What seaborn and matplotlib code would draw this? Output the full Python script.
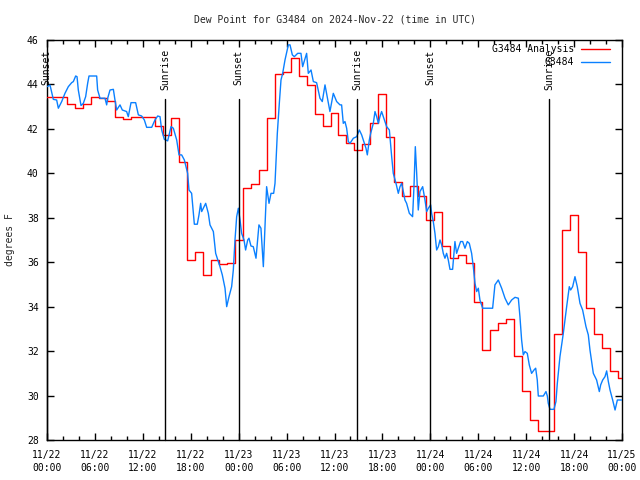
import matplotlib
matplotlib.use("Agg")
import matplotlib.pyplot as plt
from matplotlib.ticker import MultipleLocator
import seaborn as sns
import pandas as pd

# ---- data (hours since 2024-11-22 00:00 UTC) ----
analysis_hours = list(range(73))
analysis_vals = [43.42, 43.45, 43.45, 43.12, 42.92, 43.12, 43.45, 43.37, 43.25, 42.55,
                 42.43, 42.55, 42.55, 42.55, 42.13, 41.72, 42.47, 40.52, 36.10, 36.45,
                 35.42, 36.10, 35.90, 35.95, 37.00, 39.35, 39.52, 40.15, 42.50, 44.47,
                 44.55, 45.17, 44.38, 43.97, 42.67, 42.13, 42.70, 41.72, 41.35, 41.05,
                 41.30, 42.25, 43.57, 41.65, 39.60, 38.98, 39.45, 39.00, 37.90, 38.25,
                 36.75, 36.18, 36.33, 35.95, 34.22, 32.05, 32.95, 33.28, 33.43, 31.78,
                 30.20, 28.90, 28.42, 28.42, 32.75, 37.45, 38.13, 36.45, 33.93, 32.75,
                 32.13, 31.12, 30.78]

obs_hours = [0.00, 0.38, 0.79, 1.21, 1.42, 1.84, 2.25, 2.67, 3.09, 3.30, 3.59, 3.76, 3.92,
             4.26, 4.55, 4.84, 5.09, 5.26, 6.22, 6.34, 6.64, 7.26, 7.47, 7.60, 7.89, 8.31,
             8.51, 8.72, 9.14, 9.43, 9.97, 10.18, 10.52, 11.10, 11.44, 11.85, 12.19, 12.48,
             13.11, 13.52, 13.86, 14.15, 14.36, 14.69, 15.11, 15.53, 15.82, 16.24, 16.53,
             16.86, 17.20, 17.61, 17.78, 18.11, 18.45, 18.82, 19.03, 19.24, 19.37, 19.87,
             20.20, 20.41, 20.83, 21.12, 21.66, 21.95, 22.29, 22.50, 22.79, 23.12, 23.33,
             23.54, 23.75, 23.96, 24.17, 24.37, 24.67, 24.87, 25.13, 25.29, 25.54, 25.83,
             26.17, 26.34, 26.54, 26.79, 27.09, 27.30, 27.50, 27.80, 28.05, 28.38, 28.55,
             28.84, 29.09, 29.30, 29.51, 29.80, 30.22, 30.43, 30.72, 30.97, 31.39, 31.80,
             32.01, 32.51, 32.72, 33.06, 33.35, 33.76, 34.18, 34.47, 34.81, 35.43, 35.85,
             36.27, 36.69, 36.89, 37.10, 37.31, 37.52, 37.73, 37.94, 38.36, 38.78, 39.11,
             39.40, 39.61, 39.94, 40.11, 40.36, 40.53, 40.86, 41.07, 41.28, 41.49, 41.69,
             41.90, 42.11, 42.53, 42.87, 43.16, 43.36, 43.70, 43.99, 44.20, 44.41, 44.62,
             44.82, 45.03, 45.37, 45.78, 45.95, 46.12, 46.29, 46.49, 46.70, 47.04, 47.33,
             47.54, 47.75, 48.04, 48.16, 48.37, 48.58, 48.79, 49.00, 49.21, 49.42, 49.62,
             49.83, 50.04, 50.25, 50.46, 50.79, 51.08, 51.29, 51.50, 51.79, 52.05, 52.34,
             52.63, 52.88, 53.17, 53.38, 53.59, 53.80, 54.01, 54.21, 54.55, 55.80, 56.09,
             56.51, 56.93, 57.35, 57.76, 58.18, 58.60, 59.02, 59.22, 59.43, 59.64, 59.85,
             60.14, 60.39, 60.68, 60.98, 61.19, 61.39, 61.52, 62.15, 62.48, 62.65, 62.77,
             62.98, 63.48, 63.73, 63.90, 64.23, 64.65, 65.07, 65.40, 65.57, 65.82, 66.11,
             66.40, 66.74, 67.07, 67.49, 67.78, 67.99, 68.41, 68.82, 69.16, 69.33, 69.58,
             69.87, 70.08, 70.29, 70.50, 70.83, 71.13, 71.42, 71.75, 71.96]
obs_vals = [43.90, 43.97, 43.33, 43.30, 42.93, 43.23, 43.60, 43.90, 44.08, 44.13, 44.38, 44.35, 43.75,
            43.05, 43.15, 43.45, 44.05, 44.38, 44.38, 43.75, 43.38, 43.38, 43.08, 43.38, 43.75, 43.78,
            43.30, 42.85, 43.08, 42.85, 42.78, 42.55, 43.18, 43.18, 42.63, 42.58, 42.40, 42.07,
            42.07, 42.40, 42.58, 42.55, 41.95, 41.53, 41.46, 42.10, 42.03, 41.50, 40.83,
            40.83, 40.60, 40.00, 39.25, 39.10, 37.71, 37.71, 38.13, 38.65, 38.28, 38.65,
            38.20, 37.68, 37.38, 36.40, 35.80, 35.43, 34.83, 34.00, 34.45, 34.90, 35.65,
            37.00, 38.05, 38.43, 37.90, 37.30, 37.00, 36.55, 37.00, 37.08, 36.73, 36.70,
            36.18, 36.85, 37.68, 37.53, 35.80, 37.60, 39.40, 38.65, 39.10, 39.10, 39.55,
            41.80, 43.15, 44.20, 44.50, 45.10, 45.78, 45.78, 45.33, 45.25, 45.40, 45.40,
            44.80, 45.40, 44.50, 44.65, 44.13, 44.08, 43.38, 43.23, 43.98, 42.78, 43.60,
            43.23, 43.08, 43.08, 42.25, 42.33, 42.03, 41.43, 41.35, 41.58, 41.65, 41.95,
            41.73, 41.50, 41.13, 40.83, 41.50, 41.80, 42.25, 42.78, 42.55, 42.25, 42.55,
            42.78, 42.55, 42.10, 41.95, 40.75, 40.00, 39.55, 39.10, 39.40, 39.55, 39.18,
            38.80, 38.65, 38.20, 38.05, 39.40, 41.20, 40.00, 38.35, 39.18, 39.40, 38.80,
            38.28, 38.43, 38.58, 38.20, 37.83, 37.30, 36.55, 36.70, 37.00, 36.78, 36.40,
            36.18, 36.40, 36.10, 35.68, 35.68, 36.93, 36.40, 36.63, 36.93, 36.93, 36.63,
            36.93, 36.85, 36.40, 35.80, 35.05, 34.68, 34.83, 34.30, 33.93, 33.93, 34.98,
            35.20, 34.83, 34.38, 34.08, 34.30, 34.42, 34.38, 33.55, 32.50, 31.83, 31.98,
            31.90, 31.38, 31.00, 31.15, 31.23, 30.70, 29.98, 29.98, 30.18, 29.98, 29.65,
            29.38, 29.38, 29.73, 30.55, 31.75, 32.80, 34.00, 34.90, 34.75, 34.90, 35.35,
            34.90, 34.15, 33.85, 33.10, 32.73, 32.05, 31.00, 30.70, 30.18, 30.48, 30.70,
            30.85, 31.11, 30.63, 30.25, 29.80, 29.35, 29.80, 29.80, 29.80]

sun_hours = [-0.02, 14.82, 23.98, 38.85, 47.96, 62.88]
sun_labels = ["Sunset", "Sunrise", "Sunset", "Sunrise", "Sunset", "Sunrise"]

xtick_hours = list(range(0, 73, 6))
xtick_labels = ["11/22\n00:00", "11/22\n06:00", "11/22\n12:00", "11/22\n18:00",
                "11/23\n00:00", "11/23\n06:00", "11/23\n12:00", "11/23\n18:00",
                "11/24\n00:00", "11/24\n06:00", "11/24\n12:00", "11/24\n18:00",
                "11/25\n00:00"]
ytick_vals = list(range(28, 47, 2))

title = "Dew Point for G3484 on 2024-Nov-22 (time in UTC)"
ylabel = "degrees F"
name_analysis = "G3484 Analysis"
name_obs = "G3484"

# ---- style ----
sns.set_style("ticks")
plt.rcParams["font.family"] = ["DejaVu Sans Mono"]
FS = 7

fig = plt.figure(figsize=(6.4, 4.8), dpi=100)
ax = fig.add_axes([47 / 640, 1 - 440 / 480, 575 / 640, 400 / 480])

RED = "#ff0000"
BLUE = "#0a80ff"

df_a = pd.DataFrame({"hour": analysis_hours, "value": analysis_vals})
df_o = pd.DataFrame({"hour": obs_hours, "value": obs_vals})

sns.lineplot(data=df_a, x="hour", y="value", ax=ax, color=RED, linewidth=1.0,
             drawstyle="steps-mid", zorder=3)
sns.lineplot(data=df_o, x="hour", y="value", ax=ax, color=BLUE, linewidth=1.0, zorder=3)

ax.set_xlim(0, 72)
ax.set_ylim(28, 46)

for h, lab in zip(sun_hours, sun_labels):
    ax.plot([h, h], [28, 43.35], color="black", linewidth=1.0, clip_on=False, zorder=4)
    ax.text(h, 45.58, lab, rotation=90, ha="center", va="top", fontsize=FS,
            color="black", clip_on=False, zorder=5)

ax.set_xticks(xtick_hours)
ax.set_xticklabels(xtick_labels, fontsize=FS, linespacing=1.45)
ax.xaxis.set_minor_locator(MultipleLocator(2))
ax.set_yticks(ytick_vals)
ax.set_yticklabels([str(v) for v in ytick_vals], fontsize=FS)
ax.tick_params(which="both", direction="in", top=True, right=True, width=1.0,
               colors="black")
ax.tick_params(which="major", length=5)
ax.tick_params(which="minor", length=3)
ax.tick_params(axis="x", pad=7)
ax.tick_params(axis="y", pad=6)
ax.set_xlabel("")
ax.set_ylabel("")
for s in ax.spines.values():
    s.set_visible(True)
    s.set_linewidth(1.0)
    s.set_color("black")

# legend (right-aligned text, gnuplot style)
for yfrac, name, col in [(0.9775, name_analysis, RED), (0.945, name_obs, BLUE)]:
    ax.text(0.9165, yfrac, name, transform=ax.transAxes, ha="right", va="center",
            fontsize=FS, color="black", zorder=6)
    ax.plot([0.9287, 0.979], [yfrac, yfrac], transform=ax.transAxes, color=col,
            linewidth=1.0, zorder=6)

fig.text(334.5 / 640, 1 - 20 / 480, title, ha="center", va="center", fontsize=FS)
fig.text(10 / 640, 0.5, ylabel, rotation=90, ha="center", va="center", fontsize=FS)

fig.savefig("out.png", dpi=100)
